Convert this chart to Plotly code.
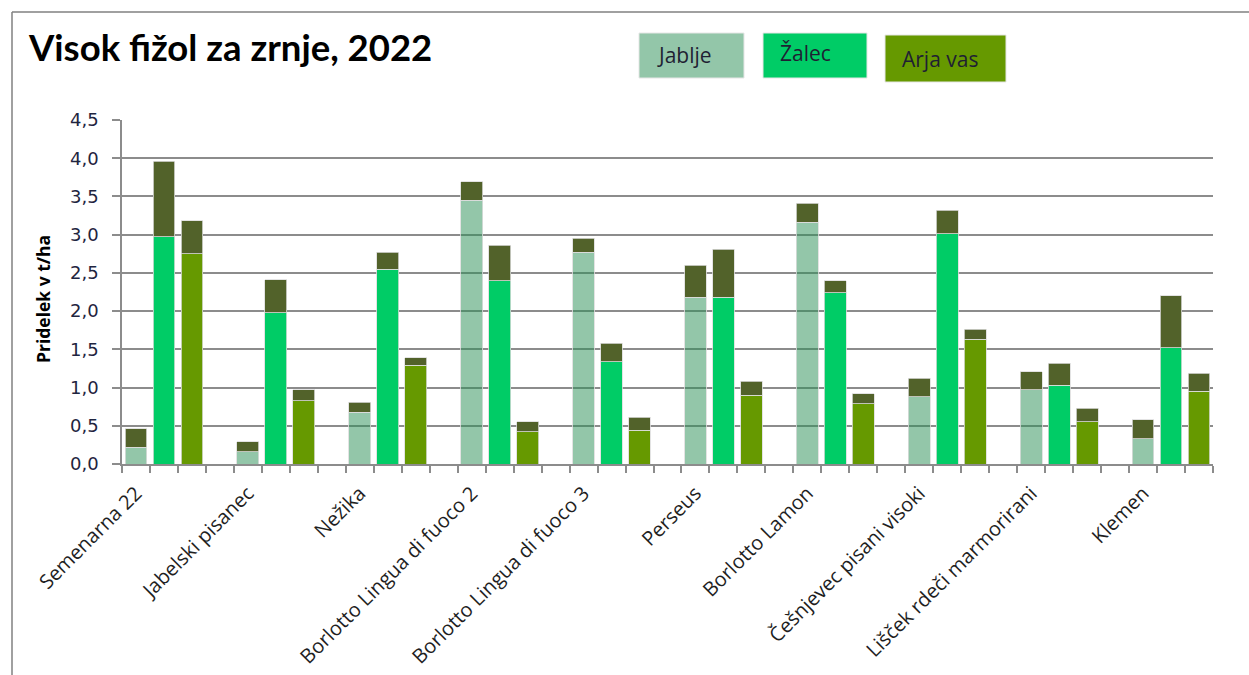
import plotly.graph_objects as go

# Sorte visokega fižola (kategorije na osi x)
sorte = [
    "Semenarna 22", "Jabelski pisanec", "Nežika", "Borlotto Lingua di fuoco 2",
    "Borlotto Lingua di fuoco 3", "Perseus", "Borlotto Lamon",
    "Češnjevec pisani visoki", "Lišček rdeči marmorirani", "Klemen",
]

# Pridelek (t/ha) po lokacijah - spodnji del stolpca
jablje = [0.22, 0.16, 0.68, 3.45, 2.77, 2.18, 3.16, 0.88, 0.97, 0.33]
zalec = [2.97, 1.98, 2.55, 2.40, 1.34, 2.18, 2.24, 3.01, 1.03, 1.52]
arja_vas = [2.75, 0.83, 1.29, 0.42, 0.44, 0.90, 0.79, 1.63, 0.55, 0.95]

# Dodatni (temni) del stolpca po lokacijah
jablje_dod = [0.24, 0.13, 0.13, 0.24, 0.18, 0.42, 0.25, 0.24, 0.24, 0.25]
zalec_dod = [0.99, 0.43, 0.22, 0.46, 0.24, 0.63, 0.16, 0.31, 0.29, 0.68]
arja_vas_dod = [0.43, 0.14, 0.10, 0.13, 0.17, 0.18, 0.13, 0.13, 0.18, 0.24]

lokacije = ["Jablje", "Žalec", "Arja vas"]
barve = {
    "Jablje": "rgba(39,141,83,0.5)",
    "Žalec": "#00CC66",
    "Arja vas": "#669900",
}
legenda_barve = {"Jablje": "#93C6A9", "Žalec": "#00CC66", "Arja vas": "#669900"}
temna = "#52622A"

W, H = 1249, 675
L, R, T, B = 122, 36, 120, 211
pw, ph = W - L - R, H - T - B


def px(x):
    return (x - L) / pw


def py(y):
    return (H - B - y) / ph


n = len(sorte)
skupine = 4  # trije stolpci + presledek
pozicije = {lok: [skupine * i + j for i in range(n)] for j, lok in enumerate(lokacije)}
vrednosti = {"Jablje": jablje, "Žalec": zalec, "Arja vas": arja_vas}
dodatki = {"Jablje": jablje_dod, "Žalec": zalec_dod, "Arja vas": arja_vas_dod}

fig = go.Figure()
obroba = dict(color="#dcdcdc", width=0.8)
for lok in lokacije:
    fig.add_trace(go.Bar(
        x=pozicije[lok], y=vrednosti[lok], name=lok,
        marker=dict(color=barve[lok], line=obroba), width=0.78,
    ))

x_dod = []
y_dod = []
for lok in lokacije:
    x_dod += pozicije[lok]
    y_dod += dodatki[lok]
fig.add_trace(go.Bar(
    x=x_dod, y=y_dod, name="dodatek",
    marker=dict(color=temna, line=obroba), width=0.78,
))

siva = "#8c8c8c"
fig.update_layout(
    width=W, height=H,
    margin=dict(l=L, r=R, t=T, b=B, autoexpand=False),
    barmode="stack",
    showlegend=False,
    plot_bgcolor="white", paper_bgcolor="white",
    separators=", ",
    font=dict(family="DejaVu Sans", color="#1f1f33"),
    xaxis=dict(
        range=[-0.5, skupine * n - 1.5],
        tickmode="array",
        tickvals=[skupine * i for i in range(n)],
        ticktext=sorte,
        tickangle=-45,
        ticks="outside", ticklen=8, tickcolor="rgba(0,0,0,0)",
        tickfont=dict(family="Open Sans", size=20, color="#1f1f1f"),
        showgrid=False, zeroline=False,
        showline=True, linecolor=siva, linewidth=1.5,
        minor=dict(tick0=-0.5, dtick=1, ticks="outside", ticklen=7,
                   tickcolor=siva, tickwidth=1.5, showgrid=False),
    ),
    yaxis=dict(
        range=[0, 4.5], dtick=0.5, tickformat=".1f",
        ticks="outside", ticklen=8, tickcolor=siva, tickwidth=1.5,
        ticklabelstandoff=10,
        tickfont=dict(family="DejaVu Sans", size=18, color="#1f2540"),
        showgrid=True, gridcolor=siva, gridwidth=1.5,
        zeroline=False, showline=True, linecolor=siva, linewidth=1.5,
    ),
)

# Naslov osi y
fig.add_annotation(text="<b>Pridelek v t/ha</b>", xref="paper", yref="paper",
                   x=px(43), y=py(299), xanchor="center", yanchor="middle",
                   textangle=-90, showarrow=False,
                   font=dict(family="Open Sans", size=17.5, color="black"))

# Okvir grafikona (zgornji in levi rob)
fig.add_shape(type="line", xref="paper", yref="paper",
              x0=px(12), x1=px(W), y0=py(12), y1=py(12),
              line=dict(color="#808080", width=1.5))
fig.add_shape(type="line", xref="paper", yref="paper",
              x0=px(12), x1=px(12), y0=py(12), y1=py(H),
              line=dict(color="#808080", width=1.5))

# Naslov
fig.add_annotation(text="<b>Visok fižol za zrnje, 2022</b>", xref="paper", yref="paper",
                   x=px(26), y=py(47), xanchor="left", yanchor="middle",
                   showarrow=False, font=dict(family="Lato", size=36.5, color="black"))

# Legenda kot barvna polja z napisi
polja = {
    "Jablje": (639, 744, 33, 78, 655, 55),
    "Žalec": (763, 867, 33, 78, 778, 53),
    "Arja vas": (885, 1006, 35, 82, 900, 59),
}
for lok in lokacije:
    x0, x1, y0, y1, tx, ty = polja[lok]
    fig.add_shape(type="rect", xref="paper", yref="paper",
                  x0=px(x0), x1=px(x1), y0=py(y1), y1=py(y0),
                  fillcolor=legenda_barve[lok], line=dict(color="#e6e6e6", width=1))
    fig.add_annotation(text=lok, xref="paper", yref="paper",
                       x=px(tx), y=py(ty), xanchor="left", yanchor="middle",
                       showarrow=False,
                       font=dict(family="Open Sans", size=21, color="#1f1f33"))

fig.write_html("out.html")
